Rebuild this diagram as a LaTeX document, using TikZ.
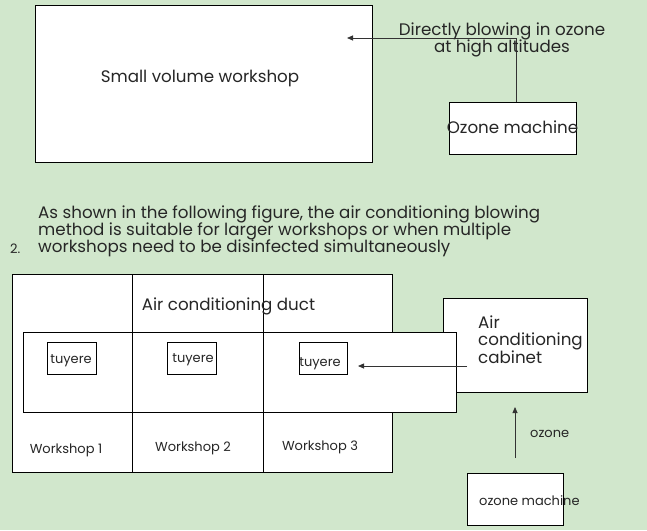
\documentclass[tikz,border=0pt]{standalone}
\usepackage{fontspec}
\setmainfont{Poppins}
\usetikzlibrary{arrows.meta}
\definecolor{bgc}{RGB}{209,231,204}
\tikzset{
  box/.style={draw=black, fill=white, line width=0.9pt, inner sep=0pt},
  lbl/.style={inner sep=0pt, text=black!85},
  big/.style={lbl, font=\fontsize{16.7}{18}\selectfont},
  small/.style={lbl, font=\fontsize{13}{15}\selectfont},
  conn/.style={draw=black!80, line width=0.8pt, -{Triangle[length=6pt,width=5pt]}},
}
\begin{document}
\begin{tikzpicture}[x=1pt,y=-1pt]
\useasboundingbox (0,0) rectangle (647,530);
\fill[bgc] (0,0) rectangle (647,530);
% top part
\node[box, minimum width=337pt, minimum height=157pt] (sw) at (203.5,83.5) {};
\node[big, anchor=base] (swt) at (200,82) {Small volume workshop};
\node[box, minimum width=127pt, minimum height=52pt] (ozm) at (512.5,128) {};
\node[big, anchor=base] (ozmt) at (512.5,133) {Ozone machine};
\coordinate (swin) at (347,38);
\draw[conn] (ozm.north -| 516,0) |- (swin);
\node[big, anchor=base] (dir1) at (502,35) {Directly blowing in ozone};
\node[big, anchor=base] (dir2) at (502,52) {at high altitudes};
% text
\node[big, anchor=base west] (p1) at (38,218) {As shown in the following figure, the air conditioning blowing};
\node[big, anchor=base west] (p2) at (38,235.5) {method is suitable for larger workshops or when multiple};
\node[big, anchor=base west] (p3) at (38,252.5) {workshops need to be disinfected simultaneously};
\node[small, anchor=base west] (num) at (10,253) {2.};
% lower part
\node[box, minimum width=380pt, minimum height=198pt] (outer) at (202,373) {};
\node[box, minimum width=144pt, minimum height=94pt] (cab) at (515,345) {};
\node[box, minimum width=433pt, minimum height=80pt] (duct) at (239.5,372) {};
\draw[line width=0.9pt] (132,274) coordinate (v1t) -- (132,472) coordinate (v1b);
\draw[line width=0.9pt] (263,274) coordinate (v2t) -- (263,472) coordinate (v2b);
\node[big, anchor=base] (ductt) at (228.5,310) {Air conditioning duct};
\node[box, minimum width=49pt, minimum height=32pt] (t1) at (71.5,358) {};
\node[box, minimum width=49pt, minimum height=32pt] (t2) at (191.5,358) {};
\node[box, minimum width=48pt, minimum height=32pt] (t3) at (323,358) {};
\node[small, anchor=base] (t1t) at (71,363) {tuyere};
\node[small, anchor=base] (t2t) at (193,362) {tuyere};
\node[small, anchor=base] (t3t) at (320,366) {tuyere};
\node[small, anchor=base] (w1) at (66,453) {Workshop 1};
\node[small, anchor=base] (w2) at (193,451) {Workshop 2};
\node[small, anchor=base] (w3) at (320,450) {Workshop 3};
\node[big, anchor=base west] (cab1) at (478,328) {Air};
\node[big, anchor=base west] (cab2) at (478,345.5) {conditioning};
\node[big, anchor=base west] (cab3) at (478,363) {cabinet};
\coordinate (cabout) at (467,366);
\coordinate (t3in) at (358,366);
\draw[conn] (cabout) -- (t3in);
\node[box, minimum width=96pt, minimum height=52pt] (ozm2) at (515,499) {};
\node[small, anchor=base west] (ozm2t) at (479,505) {ozone machine};
\coordinate (oz2s) at (515,458);
\coordinate (cabin) at (515,407);
\draw[conn] (oz2s) -- (cabin);
\node[small, anchor=base west] (ozl) at (530,437) {ozone};
\end{tikzpicture}
\end{document}
